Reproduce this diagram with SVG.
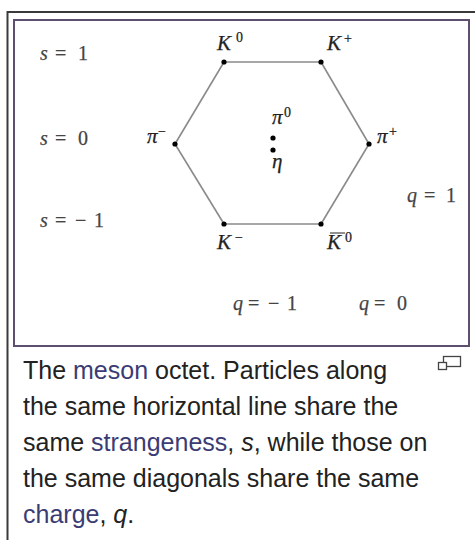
<svg xmlns="http://www.w3.org/2000/svg" width="475" height="540" viewBox="0 0 475 540">
<style>
.m{font-family:"Liberation Serif",serif;font-size:21px;fill:#222;stroke:#222;stroke-width:0.25}
.i{font-style:italic}
.sup{font-size:14px}
.lbl{font-family:"Liberation Serif",serif;font-size:20px;fill:#444;stroke:#444;stroke-width:0.25}
.cap{font-family:"Liberation Sans",Arial,sans-serif;font-size:25px;fill:#222}
.lnk{fill:#3c3c74}
.edge{stroke:#8a8a8a;stroke-width:1.6;fill:none}
.dot{fill:#000}
</style>
<rect width="475" height="540" fill="#fff"/>
<g id="frame">
<path d="M7.5 540 V12 H475" fill="none" stroke="#3a3a3a" stroke-width="2"/>
<rect x="14" y="20" width="455" height="326" fill="none" stroke="#5e4f6e" stroke-width="2"/>
</g>
<g id="connectors">
<line class="edge" x1="224" y1="62" x2="321" y2="62"/>
<line class="edge" x1="321" y1="62" x2="369" y2="144"/>
<line class="edge" x1="369" y1="144" x2="321" y2="224"/>
<line class="edge" x1="321" y1="224" x2="224" y2="224"/>
<line class="edge" x1="224" y1="224" x2="175" y2="144"/>
<line class="edge" x1="175" y1="144" x2="224" y2="62"/>
</g>
<g id="axis-labels">
<text class="lbl"><tspan class="i" x="40" y="60">s</tspan><tspan x="55" y="60">=</tspan><tspan x="78" y="60">1</tspan></text>
<text class="lbl"><tspan class="i" x="40" y="145">s</tspan><tspan x="55" y="145">=</tspan><tspan x="78" y="145">0</tspan></text>
<text class="lbl"><tspan class="i" x="40" y="227">s</tspan><tspan x="55" y="227">=</tspan><tspan x="75" y="227">−</tspan><tspan x="94" y="227">1</tspan></text>
<text class="lbl"><tspan class="i" x="407" y="202">q</tspan><tspan x="424" y="202">=</tspan><tspan x="446" y="202">1</tspan></text>
<text class="lbl"><tspan class="i" x="233" y="310">q</tspan><tspan x="248" y="310">=</tspan><tspan x="268" y="310">−</tspan><tspan x="287" y="310">1</tspan></text>
<text class="lbl"><tspan class="i" x="359" y="310">q</tspan><tspan x="374" y="310">=</tspan><tspan x="397" y="310">0</tspan></text>
</g>
<g id="K0">
<circle class="dot" cx="224" cy="62" r="2.6"/>
<text class="m"><tspan class="i" x="217" y="50">K</tspan><tspan class="sup" x="236" y="42">0</tspan></text>
</g>
<g id="Kplus">
<circle class="dot" cx="321" cy="62" r="2.6"/>
<text class="m"><tspan class="i" x="327" y="50">K</tspan><tspan class="sup" x="344" y="43">+</tspan></text>
</g>
<g id="piminus">
<circle class="dot" cx="175" cy="144" r="2.6"/>
<text class="m"><tspan class="i" x="147" y="143">π</tspan><tspan class="sup" x="158" y="136">−</tspan></text>
</g>
<g id="piplus">
<circle class="dot" cx="369" cy="144" r="2.6"/>
<text class="m"><tspan class="i" x="377" y="143">π</tspan><tspan class="sup" x="389" y="136">+</tspan></text>
</g>
<g id="pi0">
<circle class="dot" cx="273" cy="138" r="2.6"/>
<text class="m"><tspan class="i" x="272" y="124">π</tspan><tspan class="sup" x="284" y="117">0</tspan></text>
</g>
<g id="eta">
<circle class="dot" cx="273" cy="150" r="2.6"/>
<text class="m i" x="272" y="168">η</text>
</g>
<g id="Kminus">
<circle class="dot" cx="224" cy="224" r="2.6"/>
<text class="m"><tspan class="i" x="217" y="249">K</tspan><tspan class="sup" x="235" y="242">−</tspan></text>
</g>
<g id="K0bar">
<circle class="dot" cx="321" cy="224" r="2.6"/>
<text class="m"><tspan class="i" x="327" y="249">K</tspan><tspan class="sup" x="345" y="242">0</tspan></text>
<line x1="330" y1="233" x2="345" y2="233" stroke="#222" stroke-width="1"/>
</g>
<g id="magnify">
<rect x="443.5" y="356.5" width="17" height="10" fill="none" stroke="#444" stroke-width="1.3"/>
<rect x="438.5" y="362.5" width="8" height="7" fill="#fff" stroke="#444" stroke-width="1.3"/>
</g>
<g id="caption">
<text class="cap" x="23" y="379">The <tspan class="lnk">meson</tspan> octet. Particles along</text>
<text class="cap" x="23" y="415">the same horizontal line share the</text>
<text class="cap" x="23" y="451">same <tspan class="lnk">strangeness</tspan>, <tspan font-style="italic">s</tspan>, while those on</text>
<text class="cap" x="23" y="487">the same diagonals share the same</text>
<text class="cap" x="23" y="523"><tspan class="lnk">charge</tspan>, <tspan font-style="italic">q</tspan>.</text>
</g>
</svg>
